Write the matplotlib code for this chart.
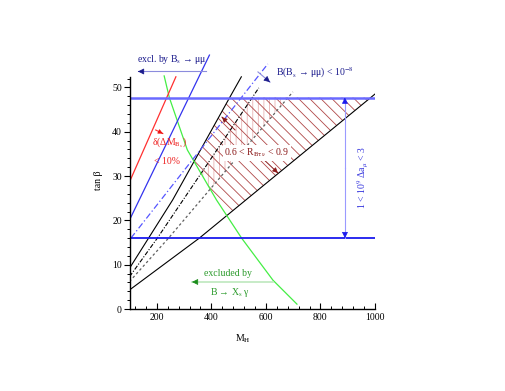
import matplotlib
matplotlib.use('Agg')
import matplotlib.pyplot as plt
from matplotlib.ticker import MultipleLocator, FixedLocator
import numpy as np

plt.rcParams['font.family'] = ['Liberation Serif', 'DejaVu Serif']
plt.rcParams['mathtext.fontset'] = 'stix'
plt.rcParams['hatch.linewidth'] = 0.6

# lines: M_H values and tan(beta) values
upper_m = [100, 258, 467, 510]
upper_tb = [9.2, 24.6, 47.7, 52.4]
dashdot_m = [100, 202, 574]
dashdot_tb = [7.3, 16.0, 49.9]
dotted_m = [100, 243, 699]
dotted_tb = [6.2, 16.0, 49.0]
lower_m = [100, 356, 1000]
lower_tb = [4.3, 16.0, 48.5]
green_m = [227, 246, 312, 419, 511, 626, 714]
green_tb = [52.6, 47.7, 35.9, 24.6, 16.0, 6.5, 1.1]
red_m = [100, 270]
red_tb = [28.7, 52.4]
blue_m = [100, 393]
blue_tb = [20.1, 57.3]
bluedd_m = [105, 607]
bluedd_tb = [16.0, 55.3]
amu_low, amu_high = 16.0, 47.7

fig = plt.figure(figsize=(5.06, 3.91), dpi=100)
ax = fig.add_axes([0.256, 0.2097, 0.485, 0.680])


def m_at(m, tb, y):
    tb = np.asarray(tb)
    m = np.asarray(m)
    if tb[0] > tb[-1]:
        tb, m = tb[::-1], m[::-1]
    return np.interp(y, tb, m)


# hatched regions
ys = np.linspace(0, amu_high, 600)
left = np.maximum(m_at(upper_m, upper_tb, ys), m_at(green_m, green_tb, ys))
right = m_at(lower_m, lower_tb, ys)
ax.fill_betweenx(ys, left, right, where=left < right, facecolor='none',
                 edgecolor='#b04848', hatch='\\\\\\', linewidth=0, zorder=1)
left2 = np.maximum(m_at(dashdot_m, dashdot_tb, ys), m_at(green_m, green_tb, ys))
right2 = m_at(dotted_m, dotted_tb, ys)
ax.fill_betweenx(ys, left2, right2, where=left2 < right2, facecolor='none',
                 edgecolor='#e8b4b4', hatch='|||', linewidth=0, zorder=0.9)

# lines
ax.plot(upper_m, upper_tb, color='black', lw=0.8)
ax.plot(lower_m, lower_tb, color='black', lw=0.8)
ax.plot(dashdot_m, dashdot_tb, color='black', lw=0.8, ls=(0, (4, 1.5, 1, 1.5)))
ax.plot(dotted_m, dotted_tb, color='#606060', lw=0.9, ls=(0, (2, 2)))
ax.plot(green_m, green_tb, color='#44ee44', lw=0.9)
ax.plot(red_m, red_tb, color='#ff3030', lw=0.9)
ax.plot(blue_m, blue_tb, color='#3333ee', lw=0.9)
ax.plot(bluedd_m, bluedd_tb, color='#5555ff', lw=0.9, ls=(0, (5, 2, 1, 2)))
ax.plot([100, 1000], [amu_high, amu_high], color='#6a6aff', lw=1.8)
ax.plot([100, 1000], [amu_low, amu_low], color='#1a1aee', lw=1.3)


def arrow(x0, y0, x1, y1, line_c, head_c, lw=0.8, size=9):
    ax.plot([x0, x1], [y0, y1], color=line_c, lw=lw, zorder=3)
    dx, dy = (x1 - x0) * 0.02, (y1 - y0) * 0.02
    ax.annotate('', xy=(x1, y1), xytext=(x1 - dx, y1 - dy),
                arrowprops=dict(arrowstyle='-|>', color=head_c, lw=0.5,
                                mutation_scale=size, shrinkA=0, shrinkB=0), zorder=4)


# annotations
navy = '#1a1a8c'
ax.text(256, 56.2, r'excl. by B$_\mathrm{s}$ → μμ', color=navy, fontsize=7,
        ha='center', va='center')
arrow(380, 53.6, 131, 53.6, '#8c8cdd', navy)
ax.text(637, 53.3, r'B(B$_\mathrm{s}$ → μμ) < 10$^{-8}$', color=navy, fontsize=7,
        ha='left', va='center')
arrow(571, 53.5, 615, 51.2, '#8c8cdd', navy)

ax.text(248, 37.5, r'δ(ΔM$_{\mathrm{B_s}}$)', color='#ee2222', fontsize=7,
        ha='center', va='center')
ax.text(237, 33.2, '< 10%', color='#ee2222', fontsize=7, ha='center', va='center')
arrow(196, 40.4, 222, 39.6, '#ff3030', '#ee1111', size=7)

green_d = '#2a9a2a'
ax.text(461, 8.1, 'excluded by', color=green_d, fontsize=7, ha='center', va='center')
ax.text(468, 3.8, r'B → X$_\mathrm{s}$ γ', color=green_d, fontsize=7,
        ha='center', va='center')
arrow(626, 6.1, 329, 6.1, '#bde8bd', '#1a8c1a', lw=1.2)

red_d = '#8b1a1a'
ax.text(567, 35.2, r'0.6 < R$_{\mathrm{B\tau\nu}}$ < 0.9', color=red_d, fontsize=7,
        ha='center', va='center', zorder=5,
        bbox=dict(facecolor='white', edgecolor='none', pad=1))
arrow(487, 40.4, 439, 43.3, red_d, red_d, lw=0.7, size=8)
arrow(586, 34.1, 644, 30.7, red_d, red_d, lw=0.7, size=8)

mid = (amu_low + amu_high) / 2
arrow(890, mid, 890, amu_high, '#9a9aff', '#1a1aee')
arrow(890, mid, 890, amu_low, '#9a9aff', '#1a1aee')
ax.text(955, 29.6, r'1 < 10$^9$ Δa$_\mu$ < 3', color='#3333dd', fontsize=7,
        rotation=90, ha='center', va='center')

# axes styling
ax.set_xlim(100, 1000)
ax.set_ylim(0, 60)
for s in ['top', 'right']:
    ax.spines[s].set_visible(False)
ax.spines['left'].set_bounds(0, 52.4)
ax.spines['left'].set_linewidth(1.0)
ax.spines['bottom'].set_linewidth(1.0)
ax.set_xticks([200, 400, 600, 800, 1000])
ax.xaxis.set_minor_locator(MultipleLocator(40))
ax.set_yticks([0, 10, 20, 30, 40, 50])
ax.yaxis.set_minor_locator(FixedLocator(np.arange(0, 53, 2)))
ax.tick_params(axis='x', which='major', direction='in', length=4, width=0.8,
               labelsize=7, pad=3)
ax.tick_params(axis='x', which='minor', direction='in', length=2.5, width=0.7)
ax.tick_params(axis='y', which='major', direction='out', length=4, width=0.8,
               labelsize=7, pad=1.5)
ax.tick_params(axis='y', which='minor', direction='out', length=2.5, width=0.7)

ax.set_xlabel(r'M$_\mathrm{H}$', fontsize=7)
ax.xaxis.set_label_coords(0.462, -0.0865)
ax.set_ylabel('tan β', fontsize=7)
ax.yaxis.set_label_coords(-0.107, 0.485)

fig.savefig('out.png', dpi=100)
